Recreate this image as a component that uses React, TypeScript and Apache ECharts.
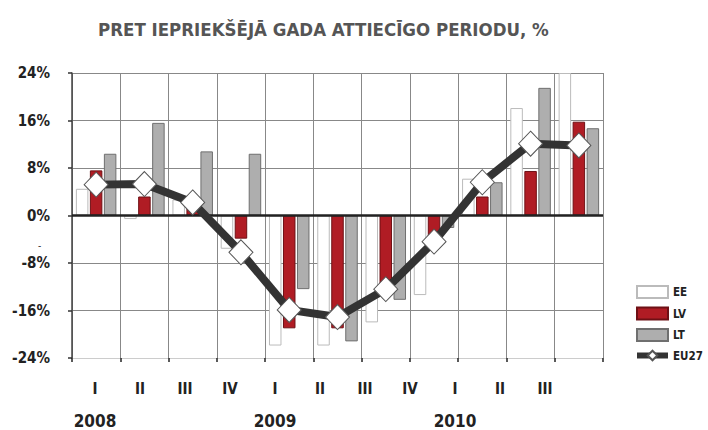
import React, { useEffect, useRef } from "react";
import * as echarts from "echarts";

const quarters = ["I", "II", "III", "IV", "I", "II", "III", "IV", "I", "II", "III"];
const years = ["2008", "", "", "", "2009", "", "", "", "2010", "", ""];
const eeValues = [4.5, -0.6, 2.7, -5.6, -21.9, -21.9, -18.0, -13.4, 6.2, 18.1, 24.0];
const lvValues = [7.6, 3.2, 1.4, -3.9, -19.0, -19.0, -13.0, -4.0, 3.2, 7.5, 15.8];
const ltValues = [10.4, 15.6, 10.8, 10.4, -12.4, -21.2, -14.2, -2.1, 5.6, 21.5, 14.7];
const eu27Values = [5.2, 5.3, 2.2, -6.2, -15.9, -17.1, -12.4, -4.4, 5.6, 12.1, 11.8];
const titleText = "PRET IEPRIEKŠĒJĀ GADA ATTIECĪGO PERIODU, %";

const FONT = "'DejaVu Sans Condensed', 'Liberation Sans Narrow', sans-serif";

export default function App() {
  const ref = useRef<HTMLDivElement>(null);
  useEffect(() => {
    if (!ref.current) return;
    const chart = echarts.init(ref.current, undefined, { renderer: "svg" });
    const option: any = {
      animation: false,
      backgroundColor: "#ffffff",
      title: {
        text: titleText,
        left: 93,
        top: 15,
        textStyle: { fontFamily: FONT, fontSize: 18.5, fontWeight: "bold", color: "#555555" },
      },
      legend: {
        orient: "vertical",
        left: 634,
        top: 285,
        padding: 0,
        itemWidth: 31,
        itemHeight: 12,
        itemGap: 7.5,
        textStyle: { fontFamily: FONT, fontSize: 11.5, fontWeight: "bold", color: "#222222" },
        data: [
          { name: "EE", icon: "rect" },
          { name: "LV", icon: "rect" },
          { name: "LT", icon: "rect" },
          { name: "EU27", lineStyle: { width: 6, color: "#333333" } },
        ],
      },
      grid: [
        { left: 72, right: 105, top: 73, bottom: 72, containLabel: false },
        { left: 72.5, width: 495, top: 372, height: 2 },
      ],
      xAxis: [
        {
          type: "category",
          gridIndex: 0,
          data: quarters,
          boundaryGap: true,
          axisLine: { onZero: false, lineStyle: { color: "#cccccc", width: 1 } },
          axisTick: { show: true, interval: 0, length: 4, lineStyle: { color: "#222222", width: 1.5 } },
          axisLabel: { show: false },
          splitLine: { show: true, interval: 0, lineStyle: { color: "#888888", width: 1 } },
        },
        {
          type: "category",
          gridIndex: 1,
          data: quarters,
          position: "bottom",
          axisLine: { show: false },
          axisTick: { show: false },
          splitLine: { show: false },
          axisLabel: { interval: 0, margin: 7, fontFamily: FONT, fontSize: 15, fontWeight: "bold", color: "#222222" },
        },
        {
          type: "category",
          gridIndex: 1,
          data: years,
          position: "bottom",
          offset: 0,
          axisLine: { show: false },
          axisTick: { show: false },
          splitLine: { show: false },
          axisLabel: { interval: 0, margin: 38, fontFamily: FONT, fontSize: 17, fontWeight: "bold", color: "#222222" },
        },
      ],
      yAxis: [
        {
          type: "value",
          gridIndex: 0,
          min: -24,
          max: 24,
          interval: 8,
          axisLine: { show: true, lineStyle: { color: "#444444", width: 1.5 } },
          axisTick: { show: true, length: 4, lineStyle: { color: "#333333", width: 1.5 } },
          axisLabel: {
            formatter: "{value}%",
            margin: 22,
            fontFamily: FONT,
            fontSize: 15,
            fontWeight: "bold",
            color: "#222222",
          },
          splitLine: { show: true, lineStyle: { color: "#888888", width: 1 } },
        },
        { type: "value", gridIndex: 1, show: false },
      ],
      graphic: [
        {
          type: "text",
          left: 38,
          top: 240,
          style: { text: "-", fontFamily: FONT, fontSize: 10, fill: "#333333" },
        },
      ],
      series: [
        {
          name: "EE",
          type: "bar",
          data: eeValues,
          barWidth: 12.5,
          barGap: "12%",
          itemStyle: { color: "#ffffff", borderColor: "#bbbbbb", borderWidth: 1 },
          z: 2,
        },
        {
          name: "LV",
          type: "bar",
          data: lvValues,
          barWidth: 12.5,
          barGap: "12%",
          itemStyle: { color: "#b01c24", borderColor: "#6e1015", borderWidth: 1 },
          z: 2,
          markLine: {
            silent: true,
            symbol: "none",
            label: { show: false },
            lineStyle: { color: "#222222", width: 2.5, type: "solid" },
            data: [{ yAxis: 0 }],
          },
        },
        {
          name: "LT",
          type: "bar",
          data: ltValues,
          barWidth: 12.5,
          barGap: "12%",
          itemStyle: { color: "#aeaeae", borderColor: "#6f6f6f", borderWidth: 1 },
          z: 2,
        },
        {
          name: "EU27",
          type: "line",
          data: eu27Values,
          symbol: "diamond",
          symbolSize: [24, 25],
          lineStyle: { color: "#333333", width: 8 },
          itemStyle: { color: "#ffffff", borderColor: "#555555", borderWidth: 1 },
          z: 5,
        },
      ],
    };
    chart.setOption(option);
    return () => chart.dispose();
  }, []);
  return <div ref={ref} style={{ width: 708, height: 430, position: "absolute", left: 0, top: 0 }} />;
}
